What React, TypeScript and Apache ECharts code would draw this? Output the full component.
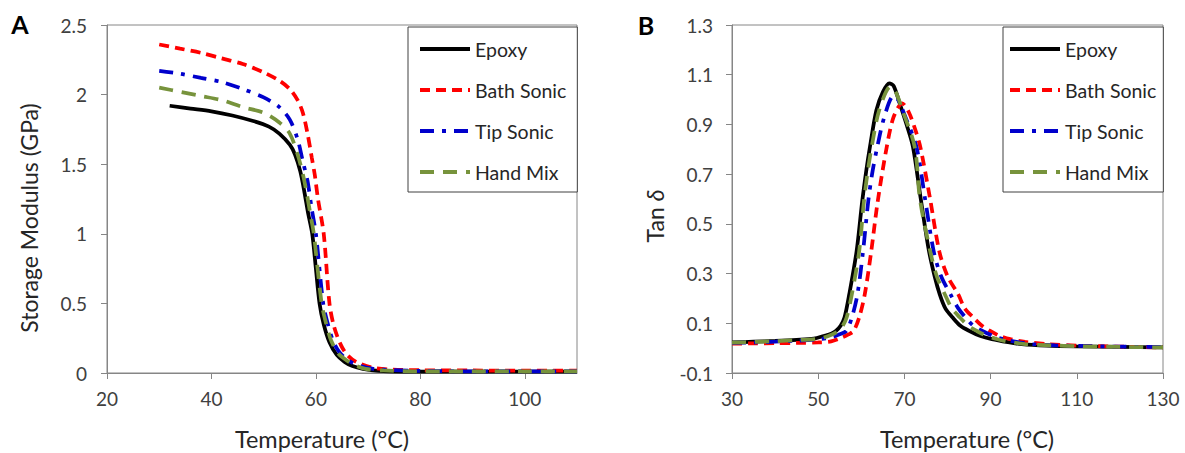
import React, { useEffect, useRef } from "react";
import * as echarts from "echarts";

// ---------- Panel A: storage modulus (GPa) vs temperature (°C) ----------
const modEpoxy: number[][] = [
  [32, 1.92], [36, 1.9], [40, 1.88], [44, 1.85], [48, 1.81], [51, 1.77], [53, 1.72],
  [55, 1.64], [56, 1.57], [57, 1.45], [57.8, 1.3], [58.5, 1.15], [59.3, 1.0], [60, 0.75],
  [60.7, 0.5], [61.5, 0.35], [62.6, 0.22], [64, 0.13], [65.5, 0.08], [67, 0.05], [69, 0.03],
  [72, 0.015], [76, 0.01], [80, 0.01], [90, 0.01], [100, 0.01], [110, 0.01],
];
const modBath: number[][] = [
  [30, 2.36], [34, 2.33], [38, 2.3], [42, 2.26], [46, 2.22], [50, 2.16], [53, 2.1],
  [55, 2.04], [56.5, 1.96], [57.5, 1.87], [58.4, 1.72], [59.2, 1.55], [59.8, 1.42],
  [60.4, 1.25], [61.5, 1.0], [62.6, 0.5], [63.5, 0.33], [64.8, 0.2], [66, 0.13],
  [67.7, 0.08], [70.6, 0.04], [74, 0.025], [80, 0.02], [90, 0.018], [100, 0.017], [110, 0.017],
];
const modTip: number[][] = [
  [30, 2.17], [34, 2.15], [38, 2.12], [42, 2.09], [46, 2.04], [50, 1.98], [53, 1.91],
  [55, 1.82], [56.5, 1.68], [57.5, 1.52], [58.4, 1.38], [59.2, 1.18], [60, 1.0],
  [61.4, 0.5], [62.3, 0.35], [63.3, 0.23], [64.5, 0.15], [66.2, 0.09], [68.5, 0.05],
  [71, 0.03], [75, 0.02], [80, 0.015], [90, 0.012], [100, 0.012], [110, 0.012],
];
const modHand: number[][] = [
  [30, 2.05], [34, 2.02], [38, 1.99], [42, 1.96], [46, 1.91], [50, 1.87], [53, 1.8],
  [55, 1.72], [56.5, 1.57], [57.5, 1.43], [58.2, 1.3], [59, 1.13], [59.6, 1.0],
  [61.1, 0.5], [62, 0.35], [62.9, 0.235], [64.3, 0.14], [65.9, 0.09], [67.5, 0.055],
  [69.5, 0.03], [73, 0.018], [80, 0.012], [90, 0.012], [100, 0.012], [110, 0.012],
];

// ---------- Panel B: tan delta vs temperature (°C) ----------
const tanEpoxy: number[][] = [
  [30, 0.023], [35, 0.026], [40, 0.029], [45, 0.033], [49, 0.038], [51.3, 0.049],
  [53, 0.058], [54.1, 0.069], [55.2, 0.09], [56.1, 0.123], [57.2, 0.216], [58.9, 0.389],
  [60.2, 0.589], [61.2, 0.72], [62, 0.809], [63.5, 0.957], [65, 1.03], [66.5, 1.065],
  [67.5, 1.055], [69, 0.98], [70.5, 0.9], [72, 0.809], [73.8, 0.6], [75.6, 0.4],
  [77, 0.29], [78.2, 0.216], [79.5, 0.16], [81.2, 0.123], [83, 0.09], [85.1, 0.069],
  [87.5, 0.05], [90.3, 0.036], [94, 0.024], [97.2, 0.016], [103, 0.01], [110, 0.007],
  [120, 0.005], [130, 0.003],
];
const tanBath: number[][] = [
  [30, 0.018], [35, 0.019], [40, 0.02], [45, 0.021], [50, 0.023], [53, 0.027],
  [55.6, 0.043], [57, 0.055], [58.2, 0.069], [59.5, 0.123], [60.8, 0.216], [62.3, 0.389],
  [63.8, 0.589], [65.9, 0.809], [67.5, 0.93], [69.5, 0.985], [71, 0.95], [72.5, 0.88],
  [73.7, 0.809], [75.9, 0.607], [78.1, 0.389], [80, 0.29], [82.5, 0.216], [84, 0.16],
  [86, 0.123], [88, 0.09], [89.9, 0.069], [92, 0.05], [94.6, 0.036], [98, 0.025],
  [103.3, 0.016], [110, 0.01], [120, 0.006], [130, 0.003],
];
const tanTip: number[][] = [
  [30, 0.021], [35, 0.023], [40, 0.026], [45, 0.03], [50, 0.036], [53, 0.043],
  [54.8, 0.055], [56.5, 0.069], [57.8, 0.123], [59.1, 0.216], [60.4, 0.389], [61.6, 0.589],
  [62.5, 0.7], [63.7, 0.809], [65.5, 0.94], [67.5, 1.015], [68.5, 1.0], [70, 0.94],
  [72.8, 0.809], [74.8, 0.6], [76.8, 0.389], [78.5, 0.29], [80.7, 0.216], [82.5, 0.16],
  [84.2, 0.123], [86, 0.09], [88.1, 0.069], [90.5, 0.05], [92.9, 0.036], [96, 0.025],
  [99.8, 0.016], [105, 0.011], [110, 0.009], [120, 0.006], [130, 0.004],
];
const tanHand: number[][] = [
  [30, 0.022], [35, 0.025], [40, 0.028], [45, 0.032], [50, 0.038], [52.5, 0.05],
  [54.7, 0.069], [55.7, 0.09], [56.6, 0.123], [57.8, 0.216], [59.5, 0.389], [60.6, 0.589],
  [61.4, 0.7], [62.4, 0.809], [64.2, 0.96], [66.8, 1.052], [68, 1.03], [69.5, 0.96],
  [72.4, 0.809], [73.6, 0.6], [76, 0.389], [77.5, 0.29], [79.4, 0.216], [81, 0.16],
  [82.9, 0.123], [84.8, 0.09], [86.8, 0.069], [89, 0.05], [91.6, 0.036], [94.5, 0.025],
  [98, 0.016], [104, 0.011], [110, 0.008], [120, 0.005], [130, 0.003],
];

const seriesNames = ["Epoxy", "Bath Sonic", "Tip Sonic", "Hand Mix"];
const seriesColors = ["#000000", "#ff0000", "#0000cc", "#77933c"];
const seriesDashes: (string | number[])[] = ["solid", [10, 6], [14, 8, 4, 8], [14, 9]];
const seriesWidths = [3.75, 3.75, 3.75, 3.75];

const modData = [modEpoxy, modBath, modTip, modHand];
const tanData = [tanEpoxy, tanBath, tanTip, tanHand];

const FONT = "Lato";
const AXIS_COLOR = "#868686";
const LABEL_COLOR = "#404040";
const TITLE_COLOR = "#262626";

function axisCommon() {
  return {
    type: "value" as const,
    axisLine: { show: true, onZero: false, lineStyle: { color: AXIS_COLOR, width: 1 } },
    axisTick: { show: true, length: 6, inside: false, lineStyle: { color: AXIS_COLOR } },
    splitLine: { show: false },
  };
}

const tickLabel = { fontSize: 19, color: LABEL_COLOR, fontFamily: FONT };

export default function App() {
  const ref = useRef<HTMLDivElement>(null);
  useEffect(() => {
    if (!ref.current) return;
    const chart = echarts.init(ref.current, undefined, { renderer: "svg" });

    const mkSeries = (datas: number[][][], idx: number) =>
      datas.map((d, i) => ({
        type: "line" as const,
        name: seriesNames[i],
        xAxisIndex: idx,
        yAxisIndex: idx,
        data: d,
        symbol: "none",
        smooth: 0.3,
        lineStyle: { color: seriesColors[i], width: seriesWidths[i], type: seriesDashes[i] as any, cap: "butt" },
        itemStyle: { color: seriesColors[i] },
        z: 2 + i,
      }));

    const legendCommon = {
      orient: "vertical" as const,
      data: seriesNames,
      itemWidth: 50,
      itemHeight: 14,
      itemGap: 19,
      borderColor: "#404040",
      borderWidth: 1,
      backgroundColor: "#ffffff",
      selectedMode: false,
      itemStyle: { opacity: 0 },
      lineStyle: { width: 4 },
      textStyle: { fontFamily: FONT, fontSize: 19.5, lineHeight: 22, color: TITLE_COLOR },
      z: 20,
    };

    chart.setOption({
      animation: false,
      textStyle: { fontFamily: FONT },
      grid: [
        { left: 107, top: 25, width: 470, height: 348, show: true, borderColor: AXIS_COLOR, borderWidth: 1, backgroundColor: "transparent" },
        { left: 732, top: 25, width: 431, height: 348, show: true, borderColor: AXIS_COLOR, borderWidth: 1, backgroundColor: "transparent" },
      ],
      xAxis: [
        { ...axisCommon(), gridIndex: 0, min: 20, max: 110, interval: 20, axisLabel: { ...tickLabel, margin: 16, showMaxLabel: false } },
        { ...axisCommon(), gridIndex: 1, min: 30, max: 130, interval: 20, axisLabel: { ...tickLabel, margin: 16 } },
      ],
      yAxis: [
        { ...axisCommon(), gridIndex: 0, min: 0, max: 2.5, interval: 0.5, axisLabel: { ...tickLabel, margin: 20 } },
        { ...axisCommon(), gridIndex: 1, min: -0.1, max: 1.3, interval: 0.2, axisLabel: { ...tickLabel, margin: 19 } },
      ],
      legend: [
        { ...legendCommon, left: 408, top: 27, padding: [11, 11, 9, 10] },
        { ...legendCommon, left: 1003, top: 27, padding: [11, 7, 9, 5] },
      ],
      graphic: [
        { type: "text", x: 20, y: 24, style: { text: "A", font: `bold 25px ${FONT}`, fill: "#000", align: "center", verticalAlign: "middle" } },
        { type: "text", x: 646, y: 25, style: { text: "B", font: `bold 25px ${FONT}`, fill: "#000", align: "center", verticalAlign: "middle" } },
        { type: "text", x: 322, y: 439, style: { text: "Temperature (°C)", font: `23.5px ${FONT}`, fill: TITLE_COLOR, align: "center", verticalAlign: "middle" } },
        { type: "text", x: 967, y: 439, style: { text: "Temperature (°C)", font: `23.5px ${FONT}`, fill: TITLE_COLOR, align: "center", verticalAlign: "middle" } },
        { type: "text", x: 29, y: 218, rotation: Math.PI / 2, style: { text: "Storage Modulus (GPa)", font: `23px ${FONT}`, fill: TITLE_COLOR, align: "center", verticalAlign: "middle" } },
        {
          type: "text", x: 655, y: 216, rotation: Math.PI / 2,
          style: {
            text: "Tan {i|δ}", font: `23px ${FONT}`, fill: TITLE_COLOR, align: "center", verticalAlign: "middle",
            rich: { i: { fontStyle: "italic", fontSize: 23, fontFamily: FONT, fill: TITLE_COLOR } },
          },
        },
      ],
      series: [...mkSeries(modData, 0), ...mkSeries(tanData, 1)],
    });
    return () => chart.dispose();
  }, []);
  return <div ref={ref} style={{ position: "absolute", left: 0, top: 0, width: 1185, height: 453 }} />;
}
